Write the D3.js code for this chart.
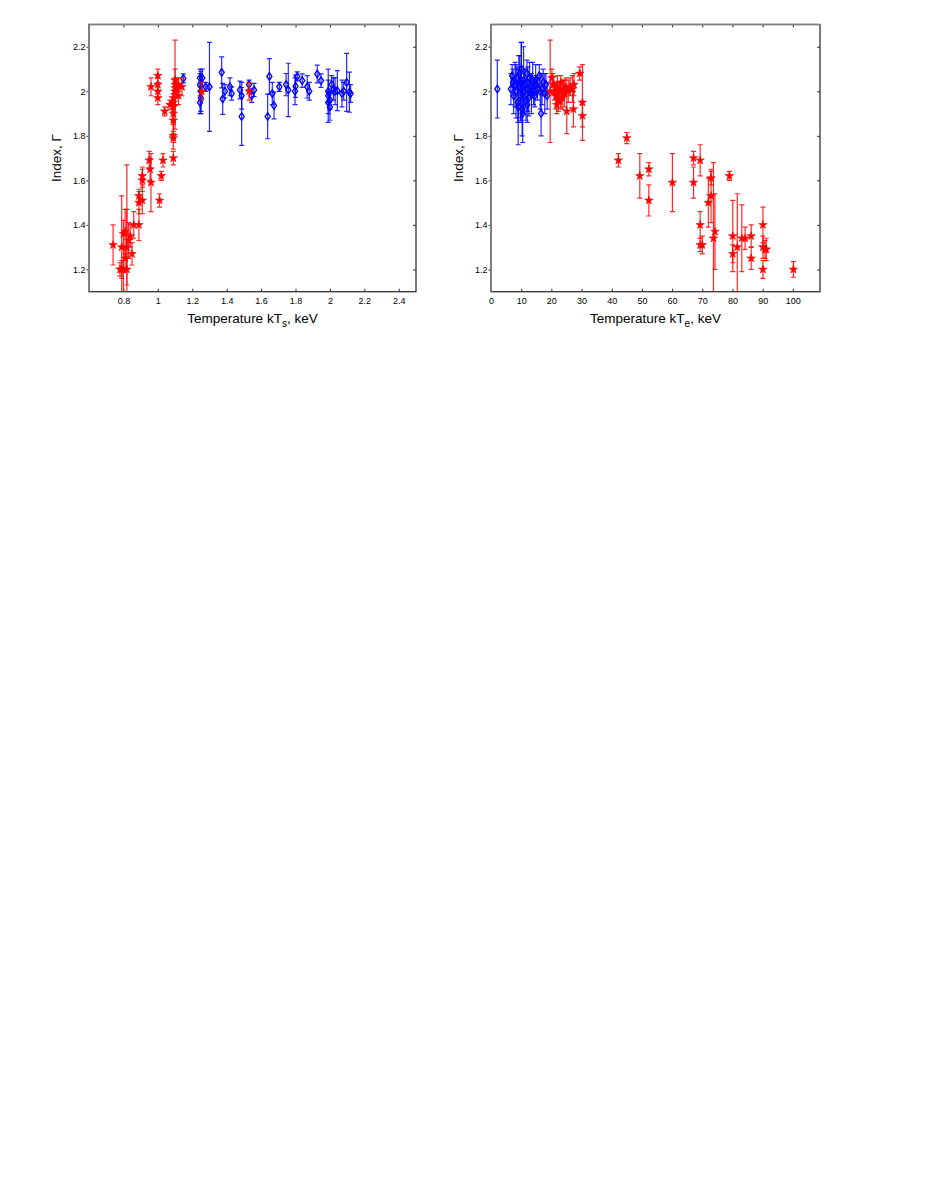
<!DOCTYPE html>
<html>
<head>
<meta charset="utf-8">
<script src="https://d3js.org/d3.v7.min.js"></script>
<title>Index vs temperature</title>
<style>
  body { margin: 0; background: #fff; }
  text { font-family: "Liberation Sans", Arial, sans-serif; fill: #000; }
</style>
</head>
<body>
<div id="chart"></div>
<script>
// data: [temperature, index, error]
// left panel - kT_s
let softRed = [
  [0.74,1.31,0.09],[0.78,1.20,0.03],[0.79,1.20,0.04],[0.80,1.20,0.10],[0.79,1.30,0.23],
  [0.80,1.36,0.06],[0.81,1.37,0.10],[0.81,1.25,0.05],[0.82,1.30,0.17],[0.82,1.20,0.47],
  [0.83,1.33,0.08],[0.84,1.35,0.05],[0.85,1.27,0.05],[0.86,1.40,0.06],[0.89,1.40,0.07],
  [0.89,1.50,0.05],[0.89,1.53,0.03],[0.91,1.51,0.06],[0.91,1.60,0.05],[0.91,1.62,0.04],
  [0.96,1.59,0.13],[0.95,1.69,0.04],[0.955,1.65,0.05],[1.01,1.51,0.03],[1.02,1.62,0.02],
  [1.03,1.69,0.03],[1.09,1.70,0.03],[0.96,2.02,0.04],[1.00,2.07,0.03],[1.00,2.03,0.03],
  [1.00,2.00,0.03],[1.00,1.97,0.03],[1.04,1.91,0.02],[1.07,1.94,0.02],[1.09,1.79,0.02],
  [1.09,1.80,0.06],[1.09,1.87,0.05],[1.09,1.90,0.05],[1.09,1.93,0.06],[1.09,1.95,0.04],
  [1.09,1.97,0.05],[1.10,2.00,0.06],[1.10,2.03,0.20],[1.10,2.05,0.05],[1.11,2.01,0.04],
  [1.12,1.98,0.04],[1.12,2.03,0.03],[1.14,2.02,0.04],[1.255,2.00,0.04],[1.53,2.00,0.04]
];
let softBlue = [
  [1.148,2.058,0.02],[1.245,2.06,0.04],[1.245,2.03,0.05],[1.25,2.00,0.09],[1.25,1.97,0.07],
  [1.245,1.95,0.05],[1.258,2.06,0.04],[1.278,2.02,0.02],[1.30,2.02,0.20],[1.371,2.085,0.07],
  [1.377,1.966,0.07],[1.39,2.00,0.03],[1.419,2.02,0.04],[1.429,1.99,0.03],[1.477,2.006,0.04],
  [1.487,1.98,0.06],[1.487,1.887,0.13],[1.53,2.03,0.02],[1.545,1.98,0.03],[1.559,2.006,0.03],
  [1.638,1.887,0.10],[1.648,2.067,0.08],[1.665,1.99,0.05],[1.675,1.936,0.06],[1.706,2.02,0.02],
  [1.745,2.03,0.05],[1.758,2.006,0.12],[1.797,2.00,0.06],[1.80,2.023,0.05],[1.81,2.067,0.02],
  [1.839,2.048,0.03],[1.868,2.02,0.05],[1.88,2.00,0.04],[1.926,2.078,0.04],[1.948,2.048,0.03],
  [1.99,2.00,0.05],[1.99,1.98,0.12],[1.99,1.95,0.05],[2.00,1.93,0.06],[2.00,1.96,0.04],
  [2.01,2.03,0.04],[2.02,2.01,0.05],[2.03,2.00,0.06],[2.043,2.003,0.09],[2.07,1.99,0.06],
  [2.08,2.00,0.04],[2.097,2.04,0.13],[2.113,1.996,0.09],[2.12,1.99,0.04]
];

// right panel - kT_e
let hardRed = [
  [19.6,2.00,0.23],[20.2,2.06,0.04],[20.6,2.03,0.05],[21.0,2.00,0.04],[21.5,1.98,0.06],
  [21.8,1.94,0.04],[22.0,2.02,0.05],[22.3,1.96,0.05],[22.8,2.00,0.04],[23.0,1.955,0.03],
  [23.1,2.04,0.03],[23.5,1.97,0.05],[24.0,2.01,0.04],[24.3,1.99,0.06],[24.8,2.02,0.04],
  [25.1,1.91,0.10],[25.6,2.00,0.05],[26.2,2.02,0.04],[27.0,2.01,0.06],[27.3,1.92,0.08],
  [27.5,2.03,0.05],[29.4,2.08,0.03],[30.3,1.95,0.17],[30.3,1.89,0.05],
  [42.2,1.69,0.03],[45.0,1.79,0.025],[49.3,1.62,0.10],[52.3,1.65,0.03],[52.3,1.51,0.07],
  [60.1,1.59,0.13],[67.1,1.70,0.03],[67.1,1.59,0.07],[69.3,1.69,0.07],[69.3,1.40,0.06],
  [69.3,1.31,0.03],[70.0,1.31,0.04],[72.0,1.50,0.11],[72.9,1.53,0.12],[72.9,1.61,0.03],
  [73.7,1.34,0.34],[74.2,1.37,0.17],[79.0,1.62,0.02],[80.1,1.35,0.16],[80.1,1.27,0.04],
  [81.6,1.30,0.24],[83.1,1.34,0.15],[84.2,1.34,0.05],[86.2,1.35,0.05],[86.2,1.25,0.05],
  [90.1,1.40,0.08],[90.1,1.30,0.05],[90.1,1.20,0.04],[90.8,1.29,0.04],[91.2,1.29,0.05],
  [100.2,1.20,0.035]
];
let hardBlue = [
  [2.1,2.01,0.13],[6.6,2.01,0.07],[7.0,2.07,0.05],[7.3,2.04,0.06],[7.5,1.98,0.08],
  [8.0,2.03,0.10],[8.3,2.00,0.12],[8.6,2.06,0.05],[8.9,1.95,0.09],[9.0,1.93,0.17],
  [9.2,2.02,0.14],[9.5,2.08,0.08],[9.8,1.98,0.11],[10.0,2.04,0.18],[10.1,2.10,0.12],
  [10.3,1.92,0.12],[10.5,1.90,0.13],[10.8,2.05,0.15],[11.0,2.00,0.10],[11.3,2.03,0.07],
  [11.6,1.96,0.09],[11.9,2.08,0.06],[12.0,1.94,0.08],[12.2,2.01,0.10],[12.5,1.97,0.08],
  [12.8,2.06,0.07],[13.1,2.02,0.05],[13.4,1.99,0.09],[13.8,2.05,0.08],[14.1,2.00,0.06],
  [14.5,1.98,0.05],[14.8,2.05,0.07],[15.0,2.03,0.04],[15.4,2.01,0.05],[16.0,2.07,0.05],
  [16.3,2.00,0.08],[16.6,1.90,0.10],[16.9,2.01,0.07],[17.3,2.04,0.06],[17.8,1.99,0.09],
  [18.2,2.03,0.05],[18.6,1.98,0.06]
];

let yTicks = [1.2, 1.4, 1.6, 1.8, 2, 2.2];
let softTicks = [0.8, 1, 1.2, 1.4, 1.6, 1.8, 2, 2.2, 2.4];
let hardTicks = [0, 10, 20, 30, 40, 50, 60, 70, 80, 90, 100];

let W = 926, H = 1199;
let svg = d3.select("#chart").append("svg")
  .attr("width", W).attr("height", H)
  .style("background", "#fff");

let plotTop = 24.5, plotBottom = 291.7;

function panel(id, left, right, xDomain, xTicks, sub, red, blue, ylabX) {
  let x = d3.scaleLinear().domain(xDomain).range([left, right]);
  let y = d3.scaleLinear().domain([1.1, 2.3]).range([plotBottom, plotTop]);
  let g = svg.append("g");

  g.append("clipPath").attr("id", id)
    .append("rect").attr("x", left).attr("y", plotTop)
    .attr("width", right - left).attr("height", plotBottom - plotTop);

  // ticks on all four sides, matlab style
  let tickLen = 3;
  g.append("g").attr("transform", "translate(0," + plotBottom + ")")
    .call(d3.axisBottom(x).tickValues(xTicks).tickSize(-tickLen).tickPadding(6)
      .tickFormat(d3.format("~g")))
    .call(a => a.select(".domain").remove())
    .call(a => a.selectAll("line").attr("stroke", "#333"))
    .call(a => a.selectAll("text").attr("font-size", 9));
  g.append("g").attr("transform", "translate(0," + plotTop + ")")
    .call(d3.axisTop(x).tickValues(xTicks).tickSize(-tickLen).tickFormat(""))
    .call(a => a.select(".domain").remove())
    .call(a => a.selectAll("line").attr("stroke", "#333"));
  g.append("g").attr("transform", "translate(" + left + ",0)")
    .call(d3.axisLeft(y).tickValues(yTicks).tickSize(2.5).tickPadding(1)
      .tickFormat(d3.format("~g")))
    .call(a => a.select(".domain").remove())
    .call(a => a.selectAll("line").attr("stroke", "#333"))
    .call(a => a.selectAll("text").attr("font-size", 9));
  g.append("g").attr("transform", "translate(" + right + ",0)")
    .call(d3.axisRight(y).tickValues(yTicks).tickSize(-tickLen).tickFormat(""))
    .call(a => a.select(".domain").remove())
    .call(a => a.selectAll("line").attr("stroke", "#333"));

  // frame
  g.append("rect").attr("x", left).attr("y", plotTop)
    .attr("width", right - left).attr("height", plotBottom - plotTop)
    .attr("fill", "none").attr("stroke", "#333").attr("stroke-width", 1.3);
  g.append("path")
    .attr("d", "M" + left + "," + plotBottom + "V" + plotTop + "H" + right)
    .attr("fill", "none").attr("stroke", "#808080").attr("stroke-width", 1.6);

  let plot = g.append("g").attr("clip-path", "url(#" + id + ")");

  function errorBars(data, color) {
    let eb = plot.append("g").attr("stroke", color).attr("stroke-width", 1.2)
      .attr("stroke-opacity", 0.85).attr("fill", "none");
    eb.selectAll("path").data(data).enter().append("path")
      .attr("d", d => {
        let cx = x(d[0]), y0 = y(d[1] - d[2]), y1 = y(d[1] + d[2]);
        return "M" + cx + "," + y0 + "V" + y1 +
          "M" + (cx - 2.5) + "," + y0 + "H" + (cx + 2.5) +
          "M" + (cx - 2.5) + "," + y1 + "H" + (cx + 2.5);
      });
  }

  errorBars(blue, "#0000ff");
  plot.append("g").selectAll("path").data(blue).enter().append("path")
    .attr("d", d3.symbol().type(d3.symbolDiamond).size(17))
    .attr("transform", d => "translate(" + x(d[0]) + "," + y(d[1]) + ") scale(1.15,1)")
    .attr("fill", "none").attr("stroke", "#0000ff").attr("stroke-width", 1.2);

  errorBars(red, "#ff0000");
  plot.append("g").selectAll("path").data(red).enter().append("path")
    .attr("d", d3.symbol().type(d3.symbolStar).size(22))
    .attr("transform", d => "translate(" + x(d[0]) + "," + y(d[1]) + ")")
    .attr("fill", "#ff0000").attr("stroke", "#ff0000").attr("stroke-width", 0.6);

  // axis titles
  let t = g.append("text").attr("x", (left + right) / 2).attr("y", 323)
    .attr("text-anchor", "middle").attr("font-size", 13.5);
  t.append("tspan").text("Temperature kT");
  t.append("tspan").attr("font-size", 10).attr("dy", 3.5).text(sub);
  t.append("tspan").attr("dy", -3.5).text(", keV");

  g.append("text")
    .attr("transform", "translate(" + ylabX + "," + ((plotTop + plotBottom) / 2) + ") rotate(-90)")
    .attr("text-anchor", "middle").attr("font-size", 13.5)
    .text("Index, \u0393");
}

panel("clipSoft", 89, 416, [0.6, 2.5], softTicks, "s", softRed, softBlue, 61);
panel("clipHard", 491, 820, [0, 109], hardTicks, "e", hardRed, hardBlue, 463);
</script>
</body>
</html>
